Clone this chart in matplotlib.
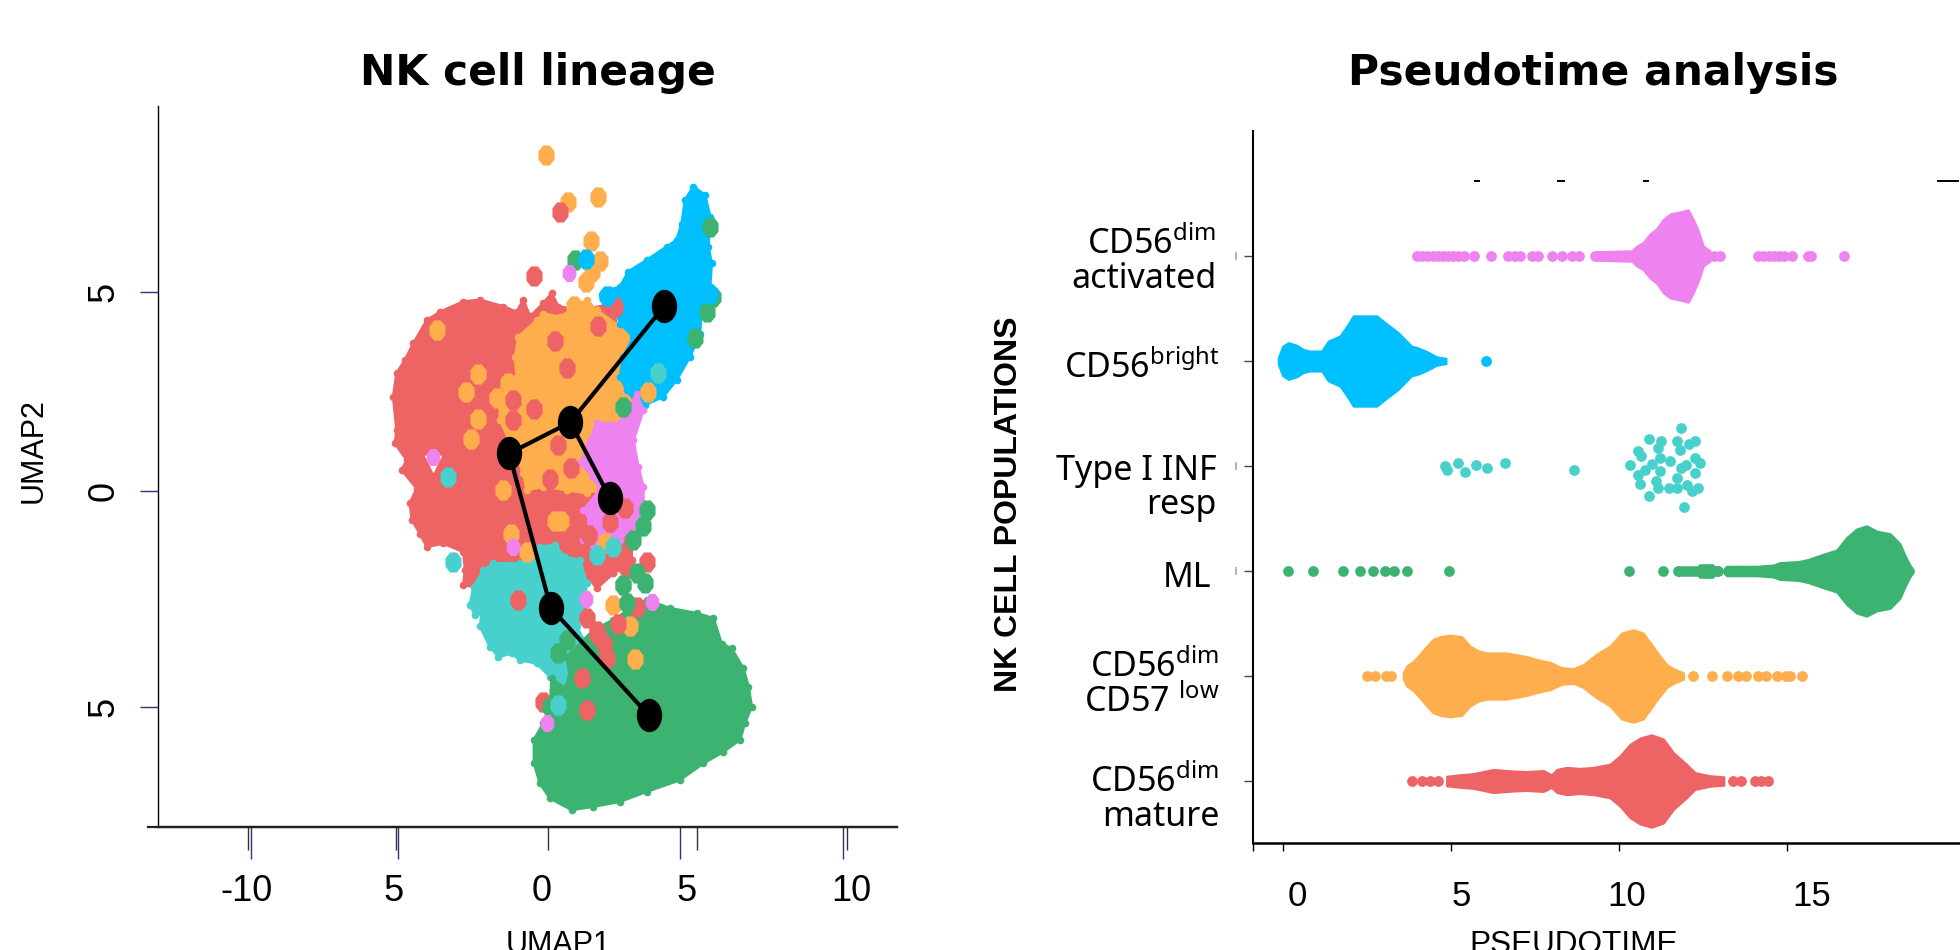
import numpy as np
import matplotlib
matplotlib.use("Agg")
import matplotlib.pyplot as plt
from matplotlib.path import Path
from matplotlib.transforms import Affine2D, ScaledTranslation

plt.rcParams['font.family'] = ['Liberation Sans', 'DejaVu Sans']
plt.rcParams['mathtext.default'] = 'regular'

# -------------------------------
# COLOURS
# -------------------------------
RED = '#EE6363'
ORANGE = '#FFAE4D'
BLUE = '#00BFFF'
PINK = '#EE82EE'
TEAL = '#48D1CC'
GREEN = '#3CB371'

# -------------------------------
# UMAP DATA (cluster outlines + single cells)
# -------------------------------
red_x = [-4.48, -4.03, -3.59, -2.81, -2.25, -1.47, -1.03, -0.81, -0.58, -0.14, 0.14, 0.36, 1.20, 2.20, 2.50, 2.80,
         2.81, 2.59, 2.20, 1.64, 1.36, 1.09, -2.47, -2.81, -2.75, -2.81, -3.48, -4.03, -4.26, -4.53, -4.59, -4.37,
         -4.87, -4.70, -5.09, -5.04, -5.15, -5.04, -4.76]
red_y = [3.76, 4.32, 4.52, 4.77, 4.81, 4.65, 4.52, 4.81, 4.41, 4.73, 4.97, 4.65, 4.56, 4.73, 3.0, 0.0,
         -1.46, -1.62, -1.78, -2.14, -1.86, -1.54, -2.10, -2.06, -1.70, -1.26, -1.06, -1.14, -0.82, -0.49, -0.09, 0.27,
         0.71, 0.95, 1.35, 1.67, 2.48, 3.04, 3.36]

orange_x = [-1.08, -0.97, -0.36, -0.14, 0.42, 1.31, 1.64, 2.42, 2.87, 2.64, 2.75, 3.09, 2.20, 1.53, 1.64, 1.31,
            0.64, -0.14, -0.69, -0.81, -0.97, -1.59, -1.59, -1.03]
orange_y = [3.44, 3.92, 4.32, 4.48, 4.40, 4.81, 4.56, 4.17, 4.08, 3.60, 3.28, 2.15, 1.67, 0.87, 0.23, 0.15,
            0.23, 0.31, 0.23, 0.63, 0.95, 1.92, 2.39, 2.96]

blue_x = [4.87, 5.26, 5.43, 5.37, 5.48, 5.43, 5.15, 5.09, 4.76, 4.31, 3.87, 3.26, 2.98, 2.64, 2.42, 2.53, 2.87, 2.42,
          2.20, 1.81, 2.09, 2.42, 2.70, 3.31, 3.98, 4.31, 4.48, 4.59]
blue_y = [7.54, 7.34, 6.81, 6.09, 5.69, 5.13, 4.65, 4.00, 3.44, 2.88, 2.48, 2.28, 2.32, 2.64, 2.96, 3.44, 3.92, 4.24,
          4.73, 4.93, 5.05, 5.13, 5.49, 5.77, 6.09, 6.25, 6.65, 7.21]

pink_x = [3.20, 2.87, 3.03, 3.20, 3.20, 2.87, 2.42, 1.53, 1.20, 1.42, 1.20, 1.75, 1.53, 1.09, 1.42, 1.64, 2.42, 2.98]
pink_y = [2.15, 1.43, 0.79, 0.31, -0.17, -0.65, -0.97, -1.10, -0.97, -0.49, -0.25, 0.23, 0.55, 0.87, 1.43, 1.84, 1.84,
          2.55]

teal_x = [-2.14, -1.81, -0.92, -0.25, 0.25, 0.58, 1.09, 1.31, 1.20, 0.97, 1.20, 0.64, 0.75, 0.53, 0.08, -0.36, -0.92,
          -1.19, -1.64, -1.92, -2.25, -2.20, -2.42, -2.59, -2.47]
teal_y = [-1.70, -1.54, -1.54, -1.14, -1.10, -1.38, -1.46, -2.02, -2.58, -3.06, -3.38, -3.79, -4.31, -4.55, -4.27,
          -3.95, -3.87, -3.71, -3.79, -3.55, -3.06, -2.74, -2.78, -2.54, -2.10]

green_x = [4.09, 4.98, 5.54, 5.81, 6.15, 6.54, 6.71, 6.82, 6.59, 6.43, 5.87, 5.20, 4.42, 3.31, 2.42, 1.53, 0.81, 0.08,
           -0.25, -0.45, -0.45, -0.14, 0.08, 0.14, 0.58, 0.75, 0.64, 1.53, 2.20, 2.87, 3.31]
green_y = [-2.62, -2.74, -2.86, -3.47, -3.59, -4.07, -4.51, -4.99, -5.39, -5.79, -6.08, -6.36, -6.76, -7.04, -7.28,
           -7.40, -7.48, -7.20, -6.84, -6.36, -5.79, -5.39, -4.99, -4.31, -4.55, -4.27, -3.79, -3.15, -2.90, -2.58,
           -2.42]

cells_orange_x = [-0.04, 0.67, 1.69, 1.44, 1.74, 1.48, 1.30, -3.68, -2.33, -2.71, -1.67, -2.54, -1.49, -1.23, 0.25,
                  0.45, 1.91, 2.20, 2.52, 2.75, 2.92, 0.87, -2.31, -1.31, -0.69, 3.37]
cells_orange_y = [8.31, 7.17, 7.28, 6.23, 5.74, 5.47, 5.25, 4.08, 3.03, 2.58, 2.44, 1.46, 0.23, -0.82, -0.53,
                  -0.53, -1.06, -2.54, -2.06, -3.06, -3.85, 4.66, 1.95, 2.80, -1.26, 2.60]
cells_red_x = [0.43, -0.44, 2.25, 0.25, 0.66, 1.69, -0.46, 0.36, -1.14, -1.14, 0.78, 0.08, 3.31, 2.64, 3.00, 2.37,
               1.65, 1.31, 1.87, 1.64, 1.98, 1.14, -0.14, 1.33, -0.97, 2.60, 1.40, 2.10]
cells_red_y = [6.92, 5.38, 4.64, 3.82, 3.16, 4.18, 2.18, 1.31, 1.92, 2.39, 0.75, 0.49, -1.50, -1.66, -2.58, -3.00,
               -3.17, -2.86, -3.47, -3.23, -3.83, -4.31, -4.87, -5.07, -2.43, -0.20, -0.85, -0.55]
cells_green_x = [0.92, 5.43, 5.54, 5.31, 4.93, 3.31, 3.20, 2.87, 2.98, 3.26, 2.51, 2.64, 0.34, 0.66, 0.08, 2.53]
cells_green_y = [5.78, 6.57, 4.88, 4.52, 3.88, -0.25, -0.65, -0.97, -1.78, -2.02, -2.06, -2.50, -3.71, -3.39, -4.99,
                 2.24]
cells_blue_x = [1.27, 5.41, 1.97]
cells_blue_y = [5.79, 4.95, 4.90]
cells_pink_x = [0.73, 1.74, -1.14, 3.48, 1.30, -0.03, -3.81]
cells_pink_y = [5.45, 1.66, -1.14, -2.46, -2.39, -5.39, 1.02]
cells_teal_x = [3.68, -3.16, -3.31, 0.36, 2.20, 1.64]
cells_teal_y = [3.04, -1.50, 0.55, -4.95, -1.14, -1.34]

# small hole in the red cluster
hole_x = [-3.81]
hole_y = [0.85]

node_x = [3.90, 0.76, -1.28, 2.09, 0.11, 3.38]
node_y = [4.66, 1.86, 1.11, 0.03, -2.61, -5.20]
node_edges = [(0, 1), (1, 2), (1, 3), (2, 4), (4, 5)]

umap_xticks = [-10, -5.07, 0.02, 5, 10]
umap_xlabels = ['-10', '5', '0', '5', '10']
umap_xticks_extra = [-9.91, -4.98, 4.41, 9.88]
umap_yticks = [5.0, 0.2, -5.0]
umap_ylabels = ['5', '0', '5']

# -------------------------------
# PSEUDOTIME DATA (swarm profile = x + half height, thin tails = dots)
# -------------------------------
populations = ['CD56$^{dim}$\nmature', 'CD56$^{dim}$\nCD57 $^{low}$', 'ML', 'Type I INF\nresp',
               'CD56$^{bright}$', 'CD56$^{dim}$\nactivated']

mature_x = [4.87, 5.17, 5.66, 6.26, 6.86, 7.25, 7.75, 7.99, 8.15, 8.44, 8.84, 9.24, 9.73, 10.03, 10.33, 10.63, 10.97,
            11.32, 11.62, 12.01, 12.26, 12.71, 13.12]
mature_h = [0.045, 0.057, 0.07, 0.11, 0.095, 0.09, 0.10, 0.06, 0.11, 0.13, 0.12, 0.13, 0.16, 0.24, 0.35, 0.41, 0.44,
            0.40, 0.27, 0.16, 0.08, 0.05, 0.04]
mature_dots = [3.83, 4.13, 4.37, 4.62, 13.4, 13.64, 14.05, 14.23, 14.42]

low_x = [3.58, 3.68, 3.88, 4.08, 4.28, 4.47, 4.67, 4.97, 5.32, 5.57, 5.81, 6.06, 6.66, 7.25, 7.65, 7.95, 8.29, 8.64,
         8.94, 9.34, 9.73, 10.08, 10.43, 10.72, 10.97, 11.17, 11.42, 11.62, 11.92]
low_h = [0.03, 0.095, 0.14, 0.21, 0.285, 0.35, 0.375, 0.39, 0.375, 0.285, 0.24, 0.22, 0.22, 0.185, 0.15, 0.13, 0.08,
         0.07, 0.11, 0.21, 0.285, 0.41, 0.44, 0.41, 0.30, 0.21, 0.11, 0.07, 0.03]
low_dots = [2.51, 2.74, 3.07, 3.22, 12.19, 12.78, 13.21, 13.53, 13.77, 14.14, 14.38, 14.7, 14.98, 15.09, 15.44]

ml_x = [13.20, 14.10, 14.59, 14.79, 15.34, 15.63, 16.08, 16.48, 16.78, 17.07, 17.37, 17.67, 18.07, 18.36, 18.51, 18.66,
        18.76]
ml_h = [0.045, 0.045, 0.057, 0.08, 0.09, 0.11, 0.16, 0.20, 0.32, 0.40, 0.43, 0.38, 0.355, 0.26, 0.15, 0.055, 0.01]
ml_tail_x = [11.75, 12.35, 12.40, 12.78, 12.85, 12.96]
ml_tail_h = [0.04, 0.04, 0.06, 0.06, 0.04, 0.04]
ml_dots = [0.16, 0.89, 1.80, 2.29, 2.68, 3.03, 3.30, 3.68, 4.93, 10.29, 11.31, 11.75, 12.96, 13.25]

inf_x = [4.83, 4.89, 5.21, 5.41, 5.74, 6.06, 6.61, 8.66, 10.34, 10.88, 11.25, 11.74, 12.08, 12.25, 11.17, 11.82,
         10.56, 10.66, 11.21, 11.53, 12.25, 12.42, 10.99, 10.76, 12.0, 11.86, 11.21, 10.56, 12.25, 11.74, 10.62,
         11.09, 11.17, 11.48, 11.74, 12.03, 12.18, 12.35, 10.88, 11.92, 11.86]
inf_off = [0, -0.04, 0.03, -0.06, 0.01, -0.02, 0.03, -0.04, 0.01, 0.26, 0.24, 0.24, 0.21, 0.24, 0.17, 0.15,
           0.14, 0.10, 0.08, 0.05, 0.08, 0.03, 0.02, -0.04, 0.01, -0.02, -0.05, -0.09, -0.07, -0.11, -0.17,
           -0.14, -0.21, -0.21, -0.21, -0.18, -0.24, -0.21, -0.29, -0.39, 0.36]

bright_x = [-0.14, -0.01, 0.16, 0.41, 0.60, 0.80, 1.15, 1.35, 1.70, 1.94, 2.09, 2.29, 2.79, 3.04, 3.43, 3.83, 3.98,
            4.28, 4.57, 4.85]
bright_h = [0.03, 0.14, 0.175, 0.15, 0.11, 0.095, 0.095, 0.19, 0.24, 0.35, 0.43, 0.43, 0.43, 0.365, 0.27, 0.14, 0.13,
            0.09, 0.04, 0.025]
bright_dots = [6.05]

act_x = [9.30, 10.38, 10.53, 10.72, 10.92, 11.12, 11.32, 11.52, 11.82, 12.06, 12.21, 12.36, 12.51, 12.71]
act_h = [0.04, 0.05, 0.095, 0.13, 0.21, 0.26, 0.35, 0.40, 0.42, 0.44, 0.35, 0.24, 0.095, 0.05]
act_dots = [4.0, 4.15, 4.3, 4.45, 4.6, 4.75, 4.9, 5.05, 5.2, 5.4, 5.68, 6.2, 6.7, 6.9, 7.05, 7.4, 7.6, 8.0, 8.3,
            8.6, 8.8, 9.3, 12.84, 13.02, 14.14, 14.3, 14.45, 14.6, 14.75, 14.9, 15.16, 15.63, 15.72, 16.71]

time_ticks = [0, 5, 10, 15]

# -------------------------------
# FIGURE + HELPERS
# -------------------------------
W, H = 1960, 950
fig = plt.figure(figsize=(W / 100, H / 100), dpi=100)


def add_axes_px(left, top, right, bottom):
    return fig.add_axes([left / W, 1 - bottom / H, (right - left) / W, (bottom - top) / H])


def nudge(label, dx, dy):
    # tick labels in the reference do not sit right on their ticks
    label.set_transform(label.get_transform() + ScaledTranslation(dx / 100, dy / 100, fig.dpi_scale_trans))


# cell markers are taller than wide and look like octagons in the reference
octagon = Path.unit_regular_polygon(8)
cell_mark = Path(Affine2D().rotate_deg(22.5).scale(0.8, 1).transform(octagon.vertices), octagon.codes)
circle = Path.unit_circle()
node_mark = Path(Affine2D().scale(0.76, 1).transform(circle.vertices), circle.codes)

# -------------------------------
# LEFT: UMAP
# -------------------------------
ax1 = add_axes_px(157.5, 106, 897, 827)
ax1.set_xlim((157.5 - 547.5) / 29.95, (897 - 547.5) / 29.95)
ax1.set_ylim((499.5 - 827) / 41.5, (499.5 - 106) / 41.5)


def blob(x, y, color, z):
    ax1.fill(x, y, color=color, lw=2, zorder=z)
    ax1.scatter(x, y, s=30, color=color, lw=0, zorder=z)


blob(red_x, red_y, RED, 1)
blob(orange_x, orange_y, ORANGE, 2)
blob(blue_x, blue_y, BLUE, 3)
blob(pink_x, pink_y, PINK, 4)
blob(teal_x, teal_y, TEAL, 5)
blob(green_x, green_y, GREEN, 6)

ax1.scatter(hole_x, hole_y, s=160, marker='v', color='white', lw=0, zorder=6)
ax1.scatter(cells_orange_x, cells_orange_y, s=210, marker=cell_mark, color=ORANGE, lw=0, zorder=7)
ax1.scatter(cells_red_x, cells_red_y, s=210, marker=cell_mark, color=RED, lw=0, zorder=7)
ax1.scatter(cells_green_x, cells_green_y, s=210, marker=cell_mark, color=GREEN, lw=0, zorder=7)
ax1.scatter(cells_blue_x, cells_blue_y, s=210, marker=cell_mark, color=BLUE, lw=0, zorder=7)
ax1.scatter(cells_teal_x, cells_teal_y, s=210, marker=cell_mark, color=TEAL, lw=0, zorder=7)
ax1.scatter(cells_pink_x, cells_pink_y, s=150, marker=cell_mark, color=PINK, lw=0, zorder=7)

for a, b in node_edges:
    ax1.plot([node_x[a], node_x[b]], [node_y[a], node_y[b]], color='black', lw=3, zorder=8)
ax1.scatter(node_x, node_y, s=24 ** 2, marker=node_mark, color='black', lw=0, zorder=9)

for side in ['top', 'right']:
    ax1.spines[side].set_visible(False)
ax1.spines['left'].set_linewidth(1.0)
ax1.spines['bottom'].set_linewidth(1.6)
ax1.plot([-0.013, 1], [0, 0], color='#222222', lw=1.6, transform=ax1.transAxes, clip_on=False, zorder=10)

ax1.set_xticks(umap_xticks)
ax1.set_xticklabels(umap_xlabels, fontsize=26)
ax1.tick_params(axis='x', length=16.5, width=1.0, color='#333333', pad=17)
ax1.set_xticks(umap_xticks_extra, minor=True)
ax1.tick_params(axis='x', which='minor', length=23, width=1.0, color='#3B2A7E')
for lab, dx in zip(ax1.get_xticklabels(), [-2, -2, -6, -11, 4]):
    nudge(lab, dx, 0)

ax1.set_yticks(umap_yticks)
ax1.set_yticklabels(umap_ylabels, fontsize=26, rotation=90, va='center')
ax1.tick_params(axis='y', length=13, width=1.0, color='#3B2A7E', pad=13)

fig.text(558 / W, 1 - 945 / H, 'UMAP1', fontsize=22, ha='center', va='center')
fig.text(34 / W, 1 - 451 / H, 'UMAP2', fontsize=22, ha='center', va='center', rotation=90)
fig.text(538 / W, 1 - 73 / H, 'NK cell lineage', fontsize=30.5, fontweight='bold', family='DejaVu Sans',
         ha='center', va='center')

# -------------------------------
# RIGHT: PSEUDOTIME SWARMS
# -------------------------------
ax2 = add_axes_px(1253, 131, 1960, 843)
ax2.set_xlim((1253 - 1283) / 33.6, (1960 - 1283) / 33.6)
ax2.set_ylim((781 - 843) / 105, (781 - 131) / 105)

rows = [
    (0, mature_x, mature_h, mature_dots, RED),
    (1, low_x, low_h, low_dots, ORANGE),
    (2, ml_x, ml_h, ml_dots, GREEN),
    (4, bright_x, bright_h, bright_dots, BLUE),
    (5, act_x, act_h, act_dots, PINK),
]
for row, x, h, dots, color in rows:
    x = np.array(x)
    h = np.array(h)
    ax2.fill_between(x, row - h, row + h, color=color, lw=1.5)
    ax2.scatter(dots, [row] * len(dots), s=60, color=color, lw=0)

ax2.fill_between(ml_tail_x, 2 - np.array(ml_tail_h), 2 + np.array(ml_tail_h), color=GREEN, lw=1.5)
ax2.scatter(inf_x, 3 + np.array(inf_off), s=60, color=TEAL, lw=0)

for side in ['top', 'right']:
    ax2.spines[side].set_visible(False)
ax2.spines['left'].set_linewidth(1.5)
ax2.spines['bottom'].set_linewidth(1.8)

ax2.set_xticks(time_ticks)
ax2.set_xticklabels([str(t) for t in time_ticks], fontsize=25)
ax2.tick_params(axis='x', length=6, width=1.0, pad=21)
ax2.set_xticks([ax2.get_xlim()[0]], minor=True)
ax2.tick_params(axis='x', which='minor', length=6, width=1.0)
for lab, dx in zip(ax2.get_xticklabels(), [14, 10, 8, 25]):
    nudge(lab, dx, 0)

ax2.set_yticks(range(len(populations)))
ax2.set_yticklabels(populations, fontsize=24.5, family=['Noto Sans', 'DejaVu Sans'], ha='right', linespacing=1.0)
ax2.tick_params(axis='y', length=6.5, width=1.0, pad=20, color='#444444')
for lab, dx, dy in zip(ax2.get_yticklabels(), [3, 3, -5, 0, 3, 0], [-14, -5, -3, -18, -3, -1]):
    nudge(lab, dx, dy)

# leftovers of a cropped panel above the first row
for x0, x1 in [(5.72, 5.82), (8.17, 8.37), (10.75, 10.85), (19.5, 20.1)]:
    ax2.plot([x0, x1], [5.71, 5.71], color='black', lw=1.4, clip_on=False)
for row in [5, 3, 2]:
    ax2.plot([-1.4, -1.4], [row - 0.03, row + 0.03], color='#8FA3D8', lw=1.2, clip_on=False)

fig.text(1574 / W, 1 - 945 / H, 'PSEUDOTIME', fontsize=22.7, ha='center', va='center')
fig.text(1009 / W, 1 - 504 / H, 'NK CELL POPULATIONS', fontsize=23, fontweight='bold', ha='center', va='center',
         rotation=90)
fig.text(1593 / W, 1 - 73 / H, 'Pseudotime analysis', fontsize=30.5, fontweight='bold', family='DejaVu Sans',
         ha='center', va='center')

fig.savefig('out.png', dpi=100)
